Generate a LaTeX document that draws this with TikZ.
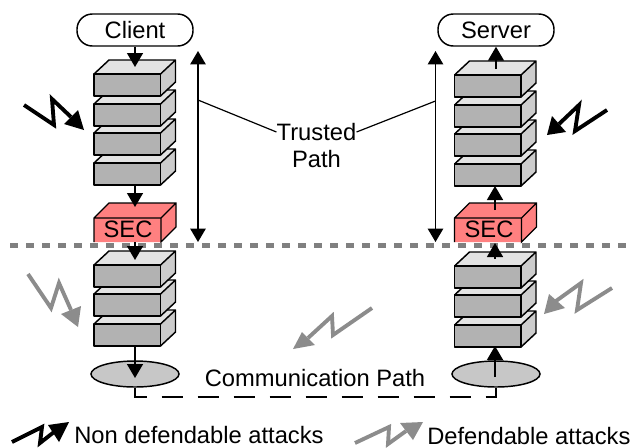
\documentclass[tikz,border=0pt]{standalone}
\usepackage{fontspec}
\setmainfont{Liberation Sans}
\usetikzlibrary{arrows.meta,shapes.geometric}
\definecolor{topc}{gray}{0.89}
\definecolor{sidec}{gray}{0.80}
\definecolor{frontc}{gray}{0.70}
\definecolor{ellc}{gray}{0.78}
\definecolor{secc}{RGB}{255,128,128}
\definecolor{atk}{gray}{0.55}
\tikzset{x=0.75pt,y=-0.75pt,
  flow/.style={line width=1.1pt,-{Triangle[length=10.5pt,width=12pt]}},
  vert/.style={line width=1.1pt,{Triangle[length=10pt,width=11.5pt]}-{Triangle[length=10pt,width=11.5pt]}},
  lead/.style={line width=0.9pt},
  lab/.style={font=\fontsize{17.8pt}{20pt}\selectfont,inner sep=0pt},
  endpoint/.style={draw,line width=1.1pt,rounded corners=11.5pt,minimum width=87pt,minimum height=24pt,inner sep=0pt,font=\fontsize{17.8pt}{20pt}\selectfont},
  nic/.style={draw,line width=1.1pt,fill=ellc,ellipse,minimum width=66pt,minimum height=19.5pt,inner sep=0pt},
  boltline/.style={line width=2.9pt,miter limit=10},
  linkline/.style={line width=1pt,dash pattern=on 16.2pt off 10.8pt}}
\newcommand{\slab}[2]{%
  \fill[topc] (#1,#2) -- ++(15,-14) -- ++(66.5,0) -- ++(-15,14) -- cycle;
  \fill[sidec] (#1+66.5,#2) -- ++(15,-14) -- ++(0,22) -- ++(-15,14) -- cycle;
  \draw[line width=1.1pt,line join=round,fill=frontc] (#1,#2) rectangle ++(66.5,22);
  \draw[line width=1.1pt,line join=round] (#1,#2) -- ++(15,-14) -- ++(66.5,0) -- ++(-15,14)
     (#1+81.5,#2-14) -- ++(0,22) -- ++(-15,14);}
\newcommand{\secbox}[1]{%
  \fill[secc] (#1,242) -- (#1,218) -- ++(15,-15) -- ++(67,0) -- ++(0,24) -- ++(-15,15) -- cycle;
  \draw[line width=1pt] (#1,242) -- (#1,218) -- ++(15,-15) -- ++(67,0) -- ++(0,24) -- ++(-15,15) -- (#1+67,218) -- (#1,218)
     (#1+67,218) -- ++(15,-15);}
\newcommand{\attack}[5]{%
  \draw[boltline,#1] #2;
  \fill[#1] #3 -- #4 -- #5 -- cycle;}
\begin{document}
\begin{tikzpicture}
\useasboundingbox[fill=white] (0,0) rectangle (634,447);
% stacks: lower slabs first, so that each upper slab covers the one below it
\foreach \y in {163,133,104,74} {\slab{94}{\y}}
\foreach \y in {324,294,265} {\slab{94}{\y}}
\foreach \y in {164,134,105,75} {\slab{454.5}{\y}}
\foreach \y in {325,295,266} {\slab{454.5}{\y}}
\secbox{94}
\secbox{454.5}
\node[lab] (secl) at (128,229.5) {SEC};
\node[lab] (secr) at (489,229.5) {SEC};
% boundary
\coordinate (bl) at (10,245);
\coordinate (br) at (634,245);
\draw[line width=3.75pt,draw=gray,dash pattern=on 6pt off 6pt] (bl) -- (br);
% endpoints
\node[endpoint] (client) at (135,30) {Client};
\node[endpoint] (server) at (496,30) {Server};
\node[nic] (nicl) at (135,374) {};
\node[nic] (nicr) at (496,374) {};
% anchors
\coordinate (lt) at (135,67);
\coordinate (l4) at (135,185);
\coordinate (ls) at (135,207);
\coordinate (ls2) at (135,242);
\coordinate (ll) at (135,260);
\coordinate (lb) at (135,346);
\coordinate (lo) at (135,378);
\coordinate (rt0) at (496,69);
\coordinate (r4) at (495,186);
\coordinate (rs0) at (495,210);
\coordinate (rs) at (495,243);
\coordinate (rl0) at (495,259);
\coordinate (rb) at (495,346);
\coordinate (ro0) at (495,377);
\coordinate (dl) at (135,397);
\coordinate (dr) at (496,397);
% stack flow
\draw[flow] (client.south) -- (lt);
\draw[flow] (l4) -- (ls);
\draw[flow] (ls2) -- (ll);
\draw[flow] (lb) -- (lo);
\draw[flow] (rt0) -- (server.south);
\draw[flow] (rs0) -- (r4);
\draw[flow] (rl0) -- (rs);
\draw[flow] (ro0) -- (rb);
% communication path
\draw[linkline] (nicl.south) -- (dl) -- (dr) -- (nicr.south);
\node[lab] (comm) at (315,378) {Communication Path};
% trusted path
\coordinate (vla) at (198,51);
\coordinate (vlb) at (198,242);
\coordinate (vra) at (435.5,51);
\coordinate (vrb) at (435.5,242);
\coordinate (ja) at (198,100);
\coordinate (jb) at (435.5,101);
\draw[vert] (vla) -- (vlb);
\draw[vert] (vra) -- (vrb);
\node[lab] (trusted) at (316.5,132) {Trusted};
\node[lab] (tpath) at (316.5,159) {Path};
\draw[lead] (ja) -- (trusted.west);
\draw[lead] (jb) -- (trusted.east);
% attacks
\attack{black}{(24,105) -- (54,125) -- (52,99) -- (71,117)}{(64,124)}{(84,130)}{(78,110)}
\attack{black}{(607,110) -- (575,131) -- (579,105) -- (559,124)}{(552,116)}{(547,135)}{(566,132)}
\attack{atk}{(28,274) -- (51,308) -- (59,283) -- (71,310)}{(61,314)}{(78,327)}{(81,306)}
\attack{atk}{(612,288) -- (577,310) -- (581,283) -- (556,301)}{(549,294)}{(544,314)}{(565,308)}
\attack{atk}{(372,308) -- (333,335) -- (332,316) -- (308,338)}{(302,332)}{(293,349)}{(315,345)}
\attack{black}{(12,442) -- (42,427) -- (40,443) -- (54,432)}{(48,425)}{(69,422)}{(59,442)}
\attack{atk}{(355,443) -- (389,427) -- (388,444) -- (406,431)}{(400,423)}{(423,422)}{(413,440)}
% legend
\node[lab,anchor=west] (leg1) at (74,435) {Non defendable attacks};
\node[lab,anchor=west] (leg2) at (427,436) {Defendable attacks};
\end{tikzpicture}
\end{document}
